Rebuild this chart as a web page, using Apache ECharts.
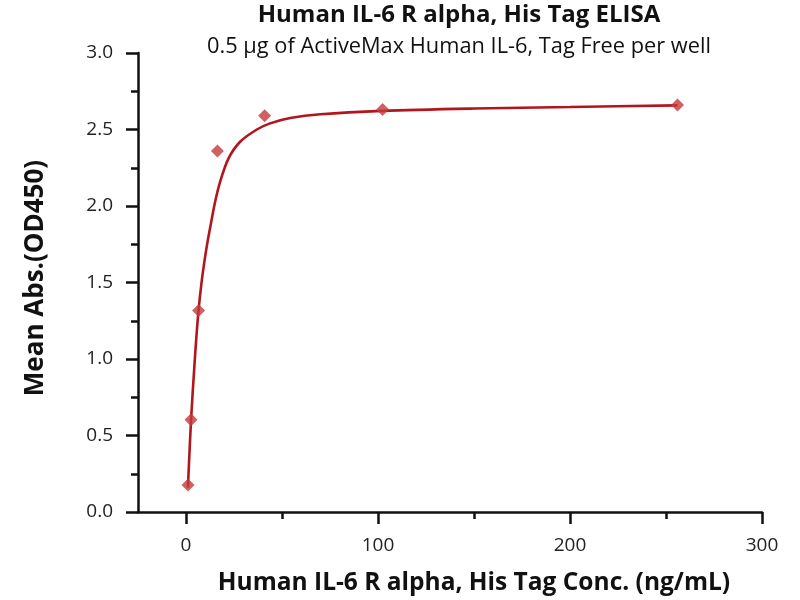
<!DOCTYPE html>
<html>
<head>
<meta charset="utf-8">
<script src="https://cdn.jsdelivr.net/npm/echarts@6/dist/echarts.min.js"></script>
<style>html,body{margin:0;padding:0;background:#fff}#c{width:800px;height:600px}</style>
</head>
<body>
<div id="c"></div>
<script>
// measured points: concentration (ng/mL) and mean absorbance
var concentrations = [1.05, 2.62, 6.55, 16.38, 40.96, 102.4, 256];
var absorbances = [0.177, 0.603, 1.317, 2.36, 2.59, 2.63, 2.66];
// fitted curve
var curveX = [1.0, 2.62, 4.5, 5.5, 6.55, 8, 9.5, 11, 12.6, 15.2, 17.8, 22.1, 28.2, 36.9, 43.8, 54.3, 70, 102.4, 150, 200, 256];
var curveY = [0.16, 0.6, 0.98, 1.16, 1.32, 1.49, 1.63, 1.75, 1.86, 2.03, 2.16, 2.31, 2.42, 2.50, 2.54, 2.575, 2.60, 2.622, 2.637, 2.647, 2.658];
var xTickLabels = [0, 100, 200, 300];
var xMinorTicks = [50, 150, 250];

var font = '"Open Sans", "Noto Sans", sans-serif';
var chart = echarts.init(document.getElementById('c'));
var axisColor = '#111';
chart.setOption({
  animation: false,
  backgroundColor: '#fff',
  graphic: [
    {type: 'text', x: 459, y: 15,
     style: {text: 'Human IL-6 R alpha, His Tag ELISA', fill: '#111', font: 'bold 24px ' + font, align: 'center', verticalAlign: 'middle'}},
    {type: 'text', x: 459, y: 47,
     style: {text: '0.5 µg of ActiveMax Human IL-6, Tag Free per well', fill: '#111', font: '21.8px ' + font, align: 'center', verticalAlign: 'middle'}},
    {type: 'text', x: 474, y: 583,
     style: {text: 'Human IL-6 R alpha, His Tag Conc. (ng/mL)', fill: '#111', font: 'bold 24.5px ' + font, align: 'center', verticalAlign: 'middle'}},
    {type: 'text', x: 36, y: 278, rotation: Math.PI / 2,
     style: {text: 'Mean Abs.(OD450)', fill: '#111', font: 'bold 26px ' + font, align: 'center', verticalAlign: 'middle'}}
  ],
  grid: {left: 138, right: 38, top: 53, bottom: 88, containLabel: false},
  xAxis: [{
    type: 'value', min: -25, max: 300,
    axisLine: {show: true, onZero: false, lineStyle: {color: axisColor, width: 2.5}},
    axisTick: {show: true, customValues: xTickLabels, length: 12, lineStyle: {color: axisColor, width: 2.5}},
    axisLabel: {customValues: xTickLabels, fontFamily: font, fontSize: 19, color: '#222', margin: 24},
    splitLine: {show: false}
  }, {
    type: 'value', min: -25, max: 300, position: 'bottom',
    axisLine: {show: false},
    axisTick: {show: true, customValues: xMinorTicks, length: 7, lineStyle: {color: axisColor, width: 2.5}},
    axisLabel: {show: false},
    splitLine: {show: false}
  }],
  yAxis: {
    type: 'value', min: 0, max: 3, interval: 0.5,
    axisLine: {show: true, onZero: false, lineStyle: {color: axisColor, width: 2.5}},
    axisTick: {show: true, length: 12, lineStyle: {color: axisColor, width: 2.5}},
    minorTick: {show: true, splitNumber: 2, length: 7, lineStyle: {color: axisColor, width: 2.5}},
    axisLabel: {fontFamily: font, fontSize: 19, color: '#222', margin: 25,
      formatter: function (v) { return v.toFixed(1); }},
    splitLine: {show: false}
  },
  series: [{
    type: 'line', name: 'fit',
    data: curveX.map(function (x, i) { return [x, curveY[i]]; }),
    smooth: 0.3, showSymbol: false, symbol: 'none',
    lineStyle: {color: '#b0161c', width: 2.6}, z: 2
  }, {
    type: 'scatter', name: 'data',
    data: concentrations.map(function (x, i) { return [x, absorbances[i]]; }),
    symbol: 'diamond', symbolSize: [13, 13],
    itemStyle: {color: '#c4393a'}, z: 3
  }]
});
</script>
</body>
</html>
